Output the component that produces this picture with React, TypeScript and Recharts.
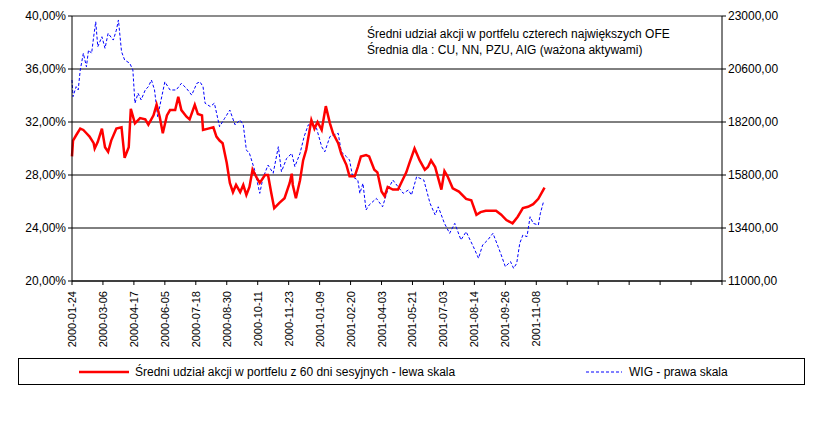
import React from 'react';
import { ComposedChart, Line, XAxis, YAxis, CartesianGrid, ReferenceLine } from 'recharts';

const dateLabels = [
  '2000-01-24', '2000-03-06', '2000-04-17', '2000-06-05', '2000-07-18', '2000-08-30',
  '2000-10-11', '2000-11-23', '2001-01-09', '2001-02-20', '2001-04-03', '2001-05-21',
  '2001-07-03', '2001-08-14', '2001-09-26', '2001-11-08',
];
const dayTicks = Array.from({ length: 22 }, (_, i) => i * 30);

// trading day index, equity share (%)
const shareDays = [0, 1, 4, 8, 11, 14, 17, 21, 22, 25, 29, 32, 35, 38, 43, 48, 51, 55, 57, 61, 66, 71, 74, 79, 82, 85, 88, 92, 95, 100, 103, 106, 111, 114, 119, 122, 126, 127, 132, 137, 140, 143, 146, 150, 153, 156, 159, 163, 166, 169, 172, 175, 179, 182, 187, 190, 193, 196, 201, 206, 211, 213, 214, 217, 221, 224, 227, 232, 235, 238, 242, 246, 250, 253, 258, 261, 266, 269, 274, 277, 280, 285, 288, 293, 296, 300, 303, 306, 311, 316, 319, 324, 327, 332, 337, 342, 345, 348, 352, 355, 358, 361, 364, 369, 375, 382, 387, 392, 396, 401, 406, 411, 416, 421, 427, 432, 437, 442, 447, 452, 458];
const shareValues = [29.4, 30.6, 31.0, 31.5, 31.4, 31.15, 30.9, 30.4, 30.0, 30.5, 31.5, 30.1, 29.75, 30.6, 31.5, 31.6, 29.3, 30.1, 33.0, 31.9, 32.3, 32.2, 31.8, 32.5, 33.3, 32.4, 31.15, 32.5, 32.9, 32.9, 33.9, 32.9, 32.4, 32.2, 33.3, 32.6, 32.5, 31.4, 31.5, 31.6, 30.9, 30.6, 30.4, 28.9, 27.4, 26.7, 27.25, 26.7, 27.25, 26.5, 27.1, 28.4, 27.8, 27.4, 28.0, 28.0, 26.7, 25.5, 25.9, 26.25, 27.4, 28.1, 27.25, 26.25, 27.6, 29.1, 29.9, 32.15, 31.5, 32.0, 31.4, 33.2, 31.9, 31.15, 30.4, 29.6, 28.75, 27.9, 27.9, 28.6, 29.4, 29.5, 29.4, 28.4, 28.2, 26.75, 26.4, 27.1, 26.9, 26.9, 27.4, 28.2, 28.9, 30.0, 29.1, 28.4, 28.6, 29.1, 28.6, 27.75, 26.9, 28.3, 27.9, 27.0, 26.75, 26.2, 26.1, 25.0, 25.2, 25.3, 25.3, 25.3, 25.0, 24.6, 24.35, 24.85, 25.5, 25.6, 25.8, 26.2, 27.05];

// trading day index, WIG index
const wigDays = [0, 1, 4, 6, 8, 11, 14, 16, 19, 21, 23, 25, 29, 32, 35, 40, 43, 45, 48, 51, 56, 59, 61, 64, 67, 71, 74, 77, 80, 83, 87, 90, 95, 101, 106, 111, 116, 121, 124, 127, 129, 134, 138, 143, 148, 153, 158, 163, 166, 169, 172, 177, 182, 185, 190, 195, 200, 203, 208, 213, 216, 221, 225, 229, 232, 237, 242, 245, 250, 258, 261, 266, 269, 272, 277, 279, 282, 285, 288, 295, 301, 306, 311, 316, 321, 326, 329, 334, 341, 347, 352, 355, 361, 366, 371, 377, 382, 389, 394, 398, 403, 408, 413, 416, 420, 425, 428, 431, 434, 437, 441, 444, 447, 452, 454, 457];
const wigValues = [20100, 19350, 19800, 19650, 20555, 21310, 20700, 21460, 21310, 22060, 22740, 21610, 22060, 21540, 22215, 21910, 22360, 22820, 21385, 21010, 20860, 20555, 19050, 19500, 19200, 19650, 19800, 20100, 19650, 18440, 19350, 20020, 19650, 19650, 19950, 19720, 19420, 19950, 20020, 19800, 19050, 18900, 19050, 17990, 18370, 18740, 18070, 18290, 18070, 16930, 16780, 16030, 14970, 15650, 16250, 15880, 17080, 15950, 16550, 16780, 16180, 16780, 17540, 18070, 18070, 17920, 17080, 16850, 17540, 17690, 16850, 16630, 16480, 15720, 15570, 14970, 15420, 14215, 14440, 14740, 14360, 15120, 15570, 15270, 14970, 15120, 14890, 15720, 15570, 14520, 13990, 14360, 13610, 13160, 13610, 12860, 13230, 12555, 12030, 12630, 12860, 13160, 12555, 12180, 11650, 11880, 11575, 11800, 12710, 13080, 13010, 13910, 13610, 13535, 14070, 14590];

const shareTicks = [20, 24, 28, 32, 36, 40];
const wigTicks = [11000, 13400, 15800, 18200, 20600, 23000];

const shareData = shareDays.map((d, i) => ({ day: d, share: shareValues[i] }));
const wigData = wigDays.map((d, i) => ({ day: d, wig: wigValues[i] }));

const font = 'Arial, "Liberation Sans", sans-serif';

const DateTick = (props: any) => {
  const { x, y, payload } = props;
  const label = dateLabels[payload.value / 30];
  if (!label) return null;
  return (
    <text x={x} y={y + 4} transform={`rotate(-90, ${x}, ${y + 4})`} textAnchor="end" dy={4}
      fontSize={11} fontFamily={font} fill="#000">{label}</text>
  );
};

export default function App() {
  return (
    <div style={{ position: 'absolute', left: 0, top: 0, width: 827, height: 437, background: '#fff', fontFamily: font }}>
      <ComposedChart width={827} height={437} margin={{ top: 16, right: 0, bottom: 87, left: 0 }}>
        <CartesianGrid vertical={false} stroke="#000" strokeWidth={1} yAxisId="left" />
        <XAxis type="number" dataKey="day" domain={[0, 630]} ticks={dayTicks} interval={0}
          height={69} tick={<DateTick />} stroke="#000" tickSize={4} allowDuplicatedCategory={false} />
        <YAxis yAxisId="left" domain={[20, 40]} ticks={shareTicks} width={72} stroke="#000"
          tickFormatter={(v: number) => v.toFixed(2).replace('.', ',') + '%'}
          tick={{ fill: '#000', fontSize: 12, fontFamily: font }} tickSize={4} />
        <YAxis yAxisId="right" orientation="right" domain={[11000, 23000]} ticks={wigTicks} width={105}
          stroke="#000" tickFormatter={(v: number) => v.toFixed(2).replace('.', ',')}
          tick={{ fill: '#000', fontSize: 12, fontFamily: font }} tickSize={4} />
        <ReferenceLine yAxisId="left" y={40} stroke="#999" />
        <Line yAxisId="right" data={wigData} dataKey="wig" type="linear" stroke="#0000ff"
          strokeWidth={1} strokeDasharray="3 2" dot={false} isAnimationActive={false} />
        <Line yAxisId="left" data={shareData} dataKey="share" type="linear" stroke="#ff0000"
          strokeWidth={2.5} dot={false} isAnimationActive={false} />
      </ComposedChart>
      <div style={{ position: 'absolute', left: 367, top: 26, fontSize: 12, lineHeight: '16px', color: '#000' }}>
        Średni udział akcji w portfelu czterech największych OFE<br />
        Średnia dla : CU, NN, PZU, AIG (ważona aktywami)
      </div>
      <div style={{ position: 'absolute', left: 18, top: 358, width: 787, height: 27, border: '1px solid #000', boxSizing: 'border-box', fontSize: 12 }}>
        <svg width={60} height={10} style={{ position: 'absolute', left: 60, top: 8 }}>
          <line x1={0} y1={5} x2={50} y2={5} stroke="#ff0000" strokeWidth={2.5} />
        </svg>
        <span style={{ position: 'absolute', left: 116, top: 6 }}>Średni udział akcji w portfelu z 60 dni sesyjnych - lewa skala</span>
        <svg width={40} height={10} style={{ position: 'absolute', left: 567, top: 8 }}>
          <line x1={0} y1={5} x2={36} y2={5} stroke="#0000ff" strokeWidth={1} strokeDasharray="3 2" />
        </svg>
        <span style={{ position: 'absolute', left: 610, top: 6 }}>WIG - prawa skala</span>
      </div>
    </div>
  );
}
